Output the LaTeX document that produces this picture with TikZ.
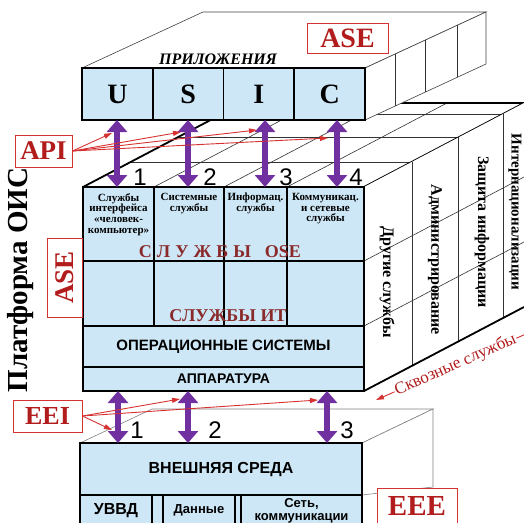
\documentclass[tikz,border=0pt]{standalone}
\usepackage{fontspec}
\setmainfont{Liberation Serif}
\setsansfont{Liberation Sans}
\usetikzlibrary{arrows.meta,positioning,calc}
\definecolor{boxblue}{RGB}{205,231,246}
\definecolor{violetarrow}{RGB}{112,48,160}
\definecolor{redline}{RGB}{215,50,50}
\definecolor{darkred}{RGB}{178,28,28}
\definecolor{brownred}{RGB}{138,42,42}
\definecolor{greyline}{RGB}{130,130,130}
\tikzset{
    cell/.style={draw=black, line width=1.6pt, fill=boxblue, inner sep=0pt, outer sep=0pt},
    appcell/.style={cell, minimum width=70.75pt, minimum height=52pt, font=\bfseries\fontsize{28}{28}\selectfont},
    face/.style={draw=black!75, line width=0.6pt, fill=white},
    thinln/.style={draw=black!80, line width=0.6pt},
    edge/.style={draw=black, line width=1.8pt},
    duplex/.style={draw=violetarrow, line width=6pt, {Triangle[length=12pt,width=20pt]}-{Triangle[length=12pt,width=20pt]}},
    ptr/.style={draw=redline, line width=0.9pt, -{Triangle[length=8pt,width=5pt]}},
    tag/.style={draw=redline, line width=0.8pt, fill=white, text=darkred, inner sep=0pt},
    num/.style={font=\sffamily\fontsize{24}{24}\selectfont, inner sep=0pt},
    hdr/.style={font=\bfseries\fontsize{11}{10.7}\selectfont, align=center, inner sep=0pt},
    side/.style={font=\bfseries\fontsize{16}{16}\selectfont, rotate=-90, inner sep=0pt},
    band/.style={font=\sffamily\bfseries\fontsize{15}{15}\selectfont},
    itlabel/.style={text=brownred, font=\bfseries\fontsize{18}{18}\selectfont, inner sep=0pt}
}
\begin{document}
\begin{tikzpicture}[x=1pt,y=-1pt]
    \useasboundingbox (0,0) rectangle (524,522);
    \clip (0,0) rectangle (524,522);

    % Platform block: top face
    \fill[white] (83,187) -- (243,103) -- (524,103) -- (364,187) -- cycle;
    \foreach \t in {0.3,0.59,0.87}
        \draw[thinln] ($(83,187)+\t*(160,-84)$) -- ($(364,187)+\t*(160,-84)$);
    \foreach \c in {154,224,287}
        \draw[thinln] (\c,187) -- ++(160,-84);
    \draw[edge] (83,187) -- ++(160,-84) -- (524,103);
    \draw[edge] (364,187) -- ++(160,-84);

    % Platform block: side face (cross-cutting services)
    \fill[white] (364,187) -- (524,103) -- (524,307) -- (364,391) -- cycle;
    \foreach \t in {0.3,0.59,0.87}
        \draw[thinln] ($(364,187)+\t*(160,-84)$) -- ($(364,391)+\t*(160,-84)$);
    \foreach \r in {261,326}
        \draw[thinln] (364,\r) -- ++(160,-84);
    \draw[edge] (364,391) -- ++(160,-84);
    \node[side] (other) at (387,282) {Другие службы};
    \node[side] (admin) at (435,260) {Администрирование};
    \node[side] (secur) at (482,232) {Защита информации};
    \node[side, font=\bfseries\fontsize{15}{15}\selectfont] (intl) at (515,212) {Интернационализации};

    % Applications slab
    \draw[face] (82,68) -- (203,12) -- (486,12) -- (365,68) -- cycle;
    \draw[face] (365,68) -- (486,12) -- (486,64) -- (365,120) -- cycle;
    \foreach \px in {395,425,457}
        \draw[thinln] (\px,{68-(\px-365)*56/121}) -- (\px,{120-(\px-365)*56/121});
    \node[font=\bfseries\itshape\fontsize{16}{16}\selectfont] (apps) at (218,59) {ПРИЛОЖЕНИЯ};
    \node[appcell, anchor=north west] (appU) at (82,68) {U};
    \node[appcell, right=0pt of appU] (appS) {S};
    \node[appcell, right=0pt of appS] (appI) {I};
    \node[appcell, right=0pt of appI] (appC) {C};
    \node[tag, font=\bfseries\fontsize{28}{28}\selectfont, minimum width=81pt, minimum height=30pt] (aseTop) at (347.5,38) {ASE};

    % Platform block: front face
    \node[cell, anchor=north west, minimum width=71pt, minimum height=74pt] (ose1) at (83,187) {};
    \node[cell, right=0pt of ose1, minimum width=70pt, minimum height=74pt] (ose2) {};
    \node[cell, right=0pt of ose2, minimum width=63pt, minimum height=74pt] (ose3) {};
    \node[cell, right=0pt of ose3, minimum width=77pt, minimum height=74pt] (ose4) {};
    \node[cell, below=0pt of ose1, minimum width=71pt, minimum height=65pt] (it1) {};
    \node[cell, below=0pt of ose2, minimum width=70pt, minimum height=65pt] (it2) {};
    \node[cell, below=0pt of ose3, minimum width=63pt, minimum height=65pt] (it3) {};
    \node[cell, below=0pt of ose4, minimum width=77pt, minimum height=65pt] (it4) {};
    \node[cell, band, anchor=north west, minimum width=281pt, minimum height=41pt] (os) at (83,326) {ОПЕРАЦИОННЫЕ СИСТЕМЫ};
    \node[cell, band, below=0pt of os, minimum width=281pt, minimum height=24pt, font=\sffamily\bfseries\fontsize{14}{14}\selectfont] (hw) {АППАРАТУРА};
    \node[hdr, below=6pt of ose1.north] (h1) {Службы\\интерфейса\\«человек-\\компьютер»};
    \node[hdr, below=6pt of ose2.north] (h2) {Системные\\службы};
    \node[hdr, below=6pt of ose3.north] (h3) {Информац.\\службы};
    \node[hdr, below=6pt of ose4.north] (h4) {Коммуникац.\\и сетевые\\службы};
    \node[itlabel] (oseLabel) at (220,252) {С\hspace{5pt}Л\hspace{5pt}У\hspace{5pt}Ж\hspace{5pt}Б\hspace{5pt}Ы\hspace{14pt}OSE};
    \node[itlabel] (itLabel) at (228,316) {СЛУЖБЫ ИТ};

    % Platform labels on the left
    \node[rotate=90, font=\bfseries\fontsize{29}{29}\selectfont] (platform) at (21,280) {Платформа ОИС};
    \node[tag, rotate=90, font=\bfseries\fontsize{27}{27}\selectfont, minimum width=79pt, minimum height=35pt] (aseLeft) at (64.5,277.5) {ASE};

    % External environment slab
    \draw[face, draw=greyline] (80,443) -- (152,409) -- (433,409) -- (362,443) -- cycle;
    \draw[face, draw=greyline] (362,443) -- (433,409) -- (433,487) -- (362,495) -- cycle;
    \node[cell, anchor=north west, minimum width=282pt, minimum height=52pt, font=\sffamily\bfseries\fontsize{16}{16}\selectfont] (ext) at (80,443) {ВНЕШНЯЯ СРЕДА};
    \node[cell, anchor=north west, minimum width=72pt, minimum height=31pt, font=\sffamily\bfseries\fontsize{16}{16}\selectfont] (uvvd) at (80,495) {УВВД};
    \node[cell, right=0pt of uvvd, minimum width=11pt, minimum height=31pt] (gap1) {};
    \node[cell, right=0pt of gap1, minimum width=72pt, minimum height=31pt, font=\sffamily\bfseries\fontsize{13}{13}\selectfont] (data) {Данные};
    \node[cell, right=0pt of data, minimum width=6pt, minimum height=31pt] (gap2) {};
    \node[cell, right=0pt of gap2, minimum width=121pt, minimum height=31pt, align=center, font=\sffamily\bfseries\fontsize{13}{13}\selectfont] (net) {Сеть,\\коммуникации};
    \node[tag, font=\bfseries\fontsize{29}{29}\selectfont, minimum width=80pt, minimum height=36pt] (eee) at (417,506) {EEE};

    % Interfaces: API between applications and platform
    \coordinate (q1) at (117,0);
    \coordinate (q2) at (188,0);
    \coordinate (q3) at (265,0);
    \coordinate (q4) at (337,0);
    \draw[duplex] (appU.south -| q1) -- (ose1.north -| q1);
    \draw[duplex] (appS.south -| q2) -- (ose2.north -| q2);
    \draw[duplex] (appI.south -| q3) -- (ose3.north -| q3);
    \draw[duplex] (appC.south -| q4) -- (ose4.north -| q4);
    \node[num] (n1) at (140,177) {1};
    \node[num] (n2) at (210,177) {2};
    \node[num] (n3) at (286,177) {3};
    \node[num] (n4) at (356,177) {4};

    % Interfaces: EEI between platform and external environment
    \coordinate (p1) at (118,0);
    \coordinate (p2) at (188,0);
    \coordinate (p3) at (327,0);
    \draw[duplex] (hw.south -| p1) -- (ext.north -| p1);
    \draw[duplex] (hw.south -| p2) -- (ext.north -| p2);
    \draw[duplex] (hw.south -| p3) -- (ext.north -| p3);
    \node[num] (m1) at (137,430) {1};
    \node[num] (m2) at (215,430) {2};
    \node[num] (m3) at (347,430) {3};

    % API pointers
    \node[tag, font=\bfseries\fontsize{27}{27}\selectfont, minimum width=57pt, minimum height=32pt] (api) at (43.5,151) {API};
    \coordinate (apiTip1) at (112,133);
    \coordinate (apiTip2) at (181,132);
    \coordinate (apiTip3) at (257,130);
    \coordinate (apiTip4) at (328,138);
    \foreach \k in {1,...,4}
        \draw[ptr] (api.east) -- (apiTip\k);

    % EEI pointers
    \node[tag, font=\bfseries\fontsize{26}{26}\selectfont, minimum width=69pt, minimum height=32pt] (eei) at (47.5,416) {EEI};
    \coordinate (eeiTip1) at (112,430);
    \coordinate (eeiTip2) at (180,399);
    \coordinate (eeiTip3) at (318,400);
    \foreach \k in {1,2,3}
        \draw[ptr] (eei.east) -- (eeiTip\k);

    % Cross-cutting services pointer
    \coordinate (skFrom) at (535,330);
    \coordinate (skTo) at (376,400);
    \draw[ptr] (skFrom) -- node[sloped, fill=white, inner sep=1pt, text=darkred, font=\fontsize{17}{17}\selectfont] (skText) {Сквозные службы} (skTo);
\end{tikzpicture}
\end{document}
